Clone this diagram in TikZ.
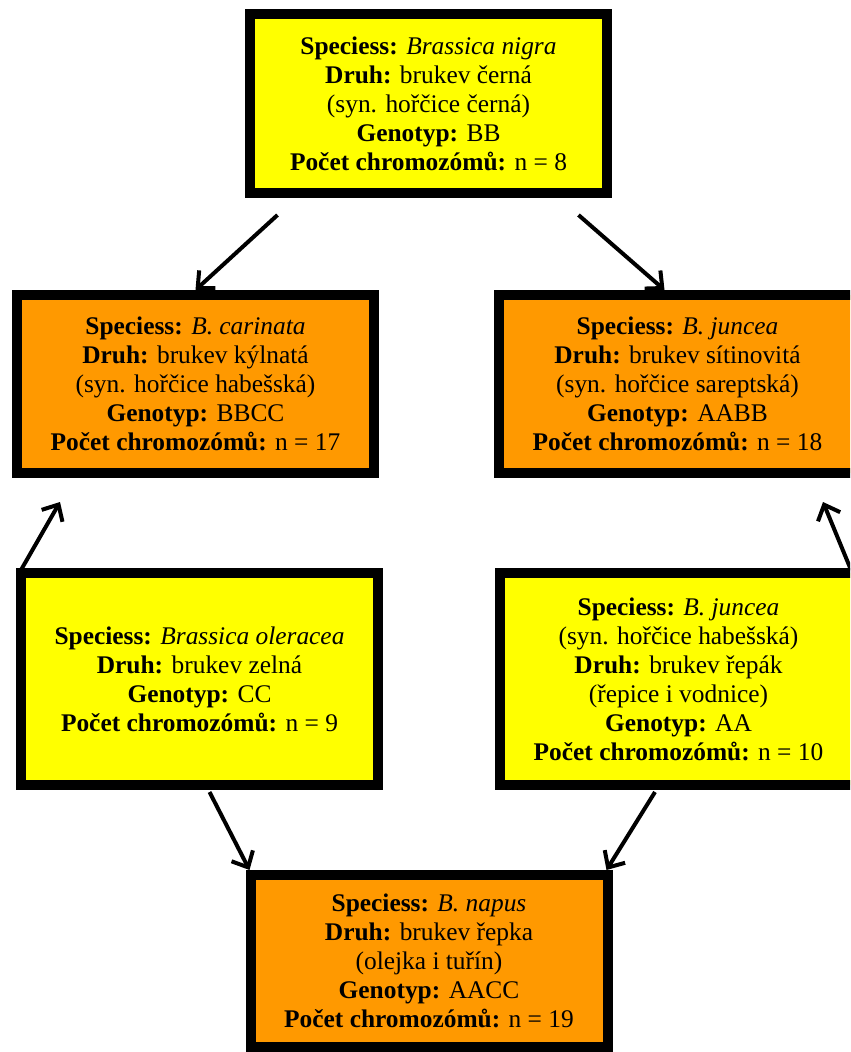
\documentclass[tikz,border=0pt]{standalone}
\usepackage{fontspec}
\setmainfont{Liberation Serif}
\usepackage{tikz}
\usetikzlibrary{arrows.meta}
\definecolor{hybridorange}{RGB}{255,153,0}
\definecolor{parentyellow}{RGB}{255,255,0}
\newcommand{\boxfont}{\fontsize{12.7}{14.5}\selectfont}
\tikzset{
	box/.style={draw, line width=5pt, align=center, font=\boxfont,
			inner sep=0pt, minimum width=178.5pt},
	parent/.style={box, fill=parentyellow},
	hybrid/.style={box, fill=hybridorange},
	link/.style={-{Straight Barb[length=6.5pt,width=12pt]}, line width=2pt}
}

\begin{document}
\begin{tikzpicture}[x=0.5pt,y=-0.5pt]
	\useasboundingbox (0,0) rectangle (850,1052);
	\clip (0,0) rectangle (850,1052);
	\node [parent, minimum height=89.5pt] (nigra) at (428.5,103.5)
	{\textbf{Speciess:} \textit{Brassica nigra}\\
		\textbf{Druh:} brukev černá\\
		(syn. hořčice černá)\\
		\textbf{Genotyp:} BB\\
		\textbf{Počet chromozómů:} n = 8};
	\node [hybrid, minimum height=89pt] (carinata) at (195.5,384)
	{\textbf{Speciess:} \textit{B. carinata}\\
		\textbf{Druh:} brukev kýlnatá\\
		(syn. hořčice habešská)\\
		\textbf{Genotyp:} BBCC\\
		\textbf{Počet chromozómů:} n = 17};
	\node [hybrid, minimum height=89pt] (juncea) at (677.5,384)
	{\textbf{Speciess:} \textit{B. juncea}\\
		\textbf{Druh:} brukev sítinovitá\\
		(syn. hořčice sareptská)\\
		\textbf{Genotyp:} AABB\\
		\textbf{Počet chromozómů:} n = 18};
	\node [parent, minimum height=106pt] (oleracea) at (199.5,679)
	{\textbf{Speciess:} \textit{Brassica oleracea}\\
		\textbf{Druh:} brukev zelná\\
		\textbf{Genotyp:} CC\\
		\textbf{Počet chromozómů:} n = 9};
	\node [parent, minimum height=106pt] (rapa) at (678.5,679)
	{\textbf{Speciess:} \textit{B. juncea}\\
		(syn. hořčice habešská)\\
		\textbf{Druh:} brukev řepák\\
		(řepice i vodnice)\\
		\textbf{Genotyp:} AA\\
		\textbf{Počet chromozómů:} n = 10};
	\node [hybrid, minimum height=86pt] (napus) at (429,961)
	{\textbf{Speciess:} \textit{B. napus}\\
		\textbf{Druh:} brukev řepka\\
		(olejka i tuřín)\\
		\textbf{Genotyp:} AACC\\
		\textbf{Počet chromozómů:} n = 19};
	\draw [link] ([shift={(-151,17)}]nigra.south) -- (carinata.north);
	\draw [link] ([shift={(150,17)}]nigra.south) -- ([shift={(-13,0)}]juncea.north);
	\draw [link] ([shift={(5,2)}]oleracea.north west) -- ([shift={(48,24)}]carinata.south west);
	\draw [link] ([shift={(-11,2)}]rapa.north east) -- ([shift={(-38,24)}]juncea.south east);
	\draw [link] ([shift={(10,2)}]oleracea.south) -- ([shift={(4,0)}]napus.north west);
	\draw [link] ([shift={(160,2)}]rapa.south west) -- ([shift={(-6,0)}]napus.north east);
\end{tikzpicture}
\end{document}
